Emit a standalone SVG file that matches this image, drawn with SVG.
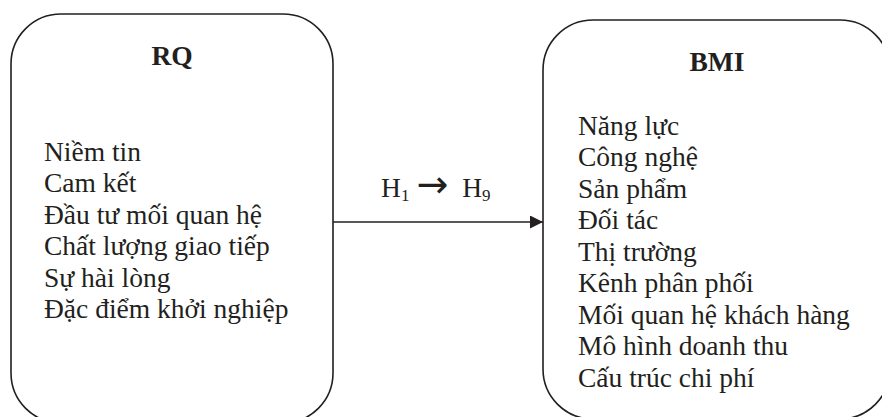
<svg xmlns="http://www.w3.org/2000/svg" width="882" height="417" viewBox="0 0 882 417">
<style>
.box{fill:#fff;stroke:#231f20;stroke-width:1.6}
.t{font-family:"Liberation Serif","Times New Roman",serif;font-size:27.5px;fill:#231f20}
.h{font-weight:bold;text-anchor:middle}
.edge{stroke:#231f20;stroke-width:1.6;fill:none}
</style>
<defs>
<marker id="ah" viewBox="0 0 10 10" refX="10" refY="5" markerUnits="userSpaceOnUse" markerWidth="15" markerHeight="13" orient="auto">
<path d="M0,0 L10,5 L0,10 Z" fill="#231f20"/>
</marker>
</defs>
<rect width="882" height="417" fill="#fff"/>
<g id="connectors">
<line class="edge" x1="333" y1="222" x2="543" y2="222" marker-end="url(#ah)"/>
<text class="t" x="381" y="197">H<tspan font-size="17" dy="4">1</tspan><tspan dx="7" dy="-4" font-family="DejaVu Sans" font-size="38">→</tspan><tspan dx="14">H</tspan><tspan font-size="17" dy="4">9</tspan></text>
</g>
<g id="RQ">
<rect class="box" x="11" y="14" width="322" height="409" rx="50" ry="50"/>
<text class="t h" x="172" y="65">RQ</text>
<text class="t" x="44" y="161">Niềm tin</text>
<text class="t" x="44" y="192">Cam kết</text>
<text class="t" x="44" y="223.5">Đầu tư mối quan hệ</text>
<text class="t" x="44" y="255">Chất lượng giao tiếp</text>
<text class="t" x="44" y="286.5">Sự hài lòng</text>
<text class="t" x="44" y="318">Đặc điểm khởi nghiệp</text>
</g>
<g id="BMI">
<rect class="box" x="543" y="20" width="347" height="399" rx="50" ry="50"/>
<text class="t h" x="717" y="71">BMI</text>
<text class="t" x="578" y="135">Năng lực</text>
<text class="t" x="578" y="166">Công nghệ</text>
<text class="t" x="578" y="197.5">Sản phẩm</text>
<text class="t" x="578" y="229">Đối tác</text>
<text class="t" x="578" y="260.5">Thị trường</text>
<text class="t" x="578" y="292">Kênh phân phối</text>
<text class="t" x="578" y="323.5">Mối quan hệ khách hàng</text>
<text class="t" x="578" y="355">Mô hình doanh thu</text>
<text class="t" x="578" y="387">Cấu trúc chi phí</text>
</g>
</svg>
